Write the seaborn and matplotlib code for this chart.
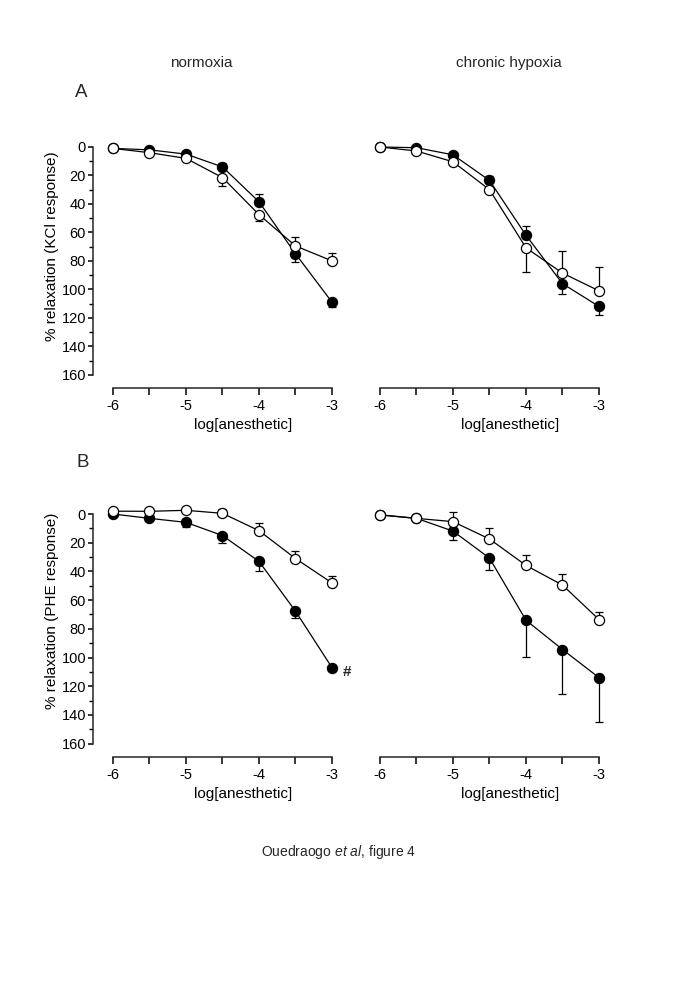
import numpy as np
import pandas as pd
import matplotlib
matplotlib.use("Agg")
import matplotlib.pyplot as plt
import seaborn as sns

# ---------------- data ----------------
log_conc = [-6, -5.5, -5, -4.5, -4, -3.5, -3]
x_major = [-6, -5, -4, -3]
x_minor = [-5.5, -4.5, -3.5]
y_major = [0, 20, 40, 60, 80, 100, 120, 140, 160]
y_minor = [10, 30, 50, 70, 90, 110, 130, 150]

# Panel A, normoxia (KCl)
a_norm_filled = [1, 2, 5, 14, 38.5, 75, 109]
a_norm_filled_up = [0, 0, 0, 3, 5.5, 0, 0]
a_norm_filled_dn = [0, 0, 0, 0, 0, 6, 3.5]
a_norm_open = [1, 4, 8, 21.5, 47.5, 69.5, 80]
a_norm_open_up = [0, 0, 0, 0, 0, 6, 5.5]
a_norm_open_dn = [0, 0, 0, 6, 4.5, 0, 0]

# Panel A, chronic hypoxia (KCl)
a_hyp_filled = [0, 0.5, 5.5, 23.5, 62, 96, 112]
a_hyp_filled_up = [0, 0, 0, 3, 6.5, 0, 0]
a_hyp_filled_dn = [0, 0, 0, 0, 0, 7.5, 6]
a_hyp_open = [0, 2.8, 10.4, 30, 70.8, 88.6, 101]
a_hyp_open_up = [0, 0, 0, 0, 0, 15.5, 17]
a_hyp_open_dn = [0, 0, 0, 0, 17.3, 0, 0]

# Panel B, normoxia (PHE)
b_norm_filled = [0, 3, 5.8, 15, 33, 67.7, 107]
b_norm_filled_up = [0, 0, 0, 0, 0, 0, 0]
b_norm_filled_dn = [0, 0, 3.5, 5, 6.5, 4.4, 0]
b_norm_open = [-2, -1.9, -2.6, -0.5, 11.6, 31, 48]
b_norm_open_up = [0, 0, 0, 3.3, 5.6, 5, 5]
b_norm_open_dn = [0, 0, 0, 0, 0, 0, 0]

# Panel B, chronic hypoxia (PHE)
b_hyp_filled = [0.5, 3, 11.9, 30.7, 74, 94.4, 114]
b_hyp_filled_up = [0, 0, 0, 0, 0, 0, 0]
b_hyp_filled_dn = [0, 0, 6, 8.3, 25.5, 30.7, 31]
b_hyp_open = [0.7, 3, 5.3, 17.4, 35.8, 49.5, 73.5]
b_hyp_open_up = [0, 0, 6.5, 8, 7, 8, 5.5]
b_hyp_open_dn = [0, 0, 0, 0, 0, 0, 0]

col_titles = ["normoxia", "chronic hypoxia"]
row_letters = ["A", "B"]
y_labels = ["% relaxation (KCl response)", "% relaxation (PHE response)"]
x_label = "log[anesthetic]"
caption = r"Ouedraogo $\mathit{et\ al}$, figure 4"

# ---------------- style ----------------
sns.set_style("ticks")
plt.rcParams["font.family"] = ["Liberation Sans", "DejaVu Sans"]
plt.rcParams["mathtext.fontset"] = "custom"
plt.rcParams["mathtext.rm"] = "Liberation Sans"
plt.rcParams["mathtext.it"] = "Liberation Sans:italic"

W, H = 685, 989
fig = plt.figure(figsize=(W / 100, H / 100), dpi=100)


def add_ax(left_px, top_px, bottom_px, width_px=246):
    return fig.add_axes([left_px / W, 1 - bottom_px / H, width_px / W, (bottom_px - top_px) / H])


axes = {
    ("A", 0): add_ax(93, 141.3, 388),
    ("A", 1): add_ax(360, 141.3, 388),
    ("B", 0): add_ax(93, 508.3, 757),
    ("B", 1): add_ax(360, 508.3, 757),
}

panels = {
    ("A", 0): (a_norm_filled, a_norm_filled_up, a_norm_filled_dn, a_norm_open, a_norm_open_up, a_norm_open_dn),
    ("A", 1): (a_hyp_filled, a_hyp_filled_up, a_hyp_filled_dn, a_hyp_open, a_hyp_open_up, a_hyp_open_dn),
    ("B", 0): (b_norm_filled, b_norm_filled_up, b_norm_filled_dn, b_norm_open, b_norm_open_up, b_norm_open_dn),
    ("B", 1): (b_hyp_filled, b_hyp_filled_up, b_hyp_filled_dn, b_hyp_open, b_hyp_open_up, b_hyp_open_dn),
}


def draw_err(ax, y, up, dn):
    x = np.array(log_conc)
    y = np.array(y, float)
    up = np.array(up, float)
    dn = np.array(dn, float)
    m = (up > 0) | (dn > 0)
    if m.any():
        ax.errorbar(x[m], y[m], yerr=[up[m], dn[m]], fmt="none", ecolor="black",
                    elinewidth=0.9, capsize=2.6, capthick=0.9, zorder=2, clip_on=False)


for (row, col), ax in axes.items():
    f, fu, fd, o, ou, od = panels[(row, col)]
    draw_err(ax, f, fu, fd)
    draw_err(ax, o, ou, od)
    df_f = pd.DataFrame({"x": log_conc, "y": f})
    df_o = pd.DataFrame({"x": log_conc, "y": o})
    sns.lineplot(data=df_f, x="x", y="y", ax=ax, color="black", marker="o", markersize=7.3,
                 markerfacecolor="black", markeredgecolor="black", markeredgewidth=0.9,
                 linewidth=0.9, clip_on=False, zorder=3, errorbar=None)
    sns.lineplot(data=df_o, x="x", y="y", ax=ax, color="black", marker="o", markersize=7.3,
                 markerfacecolor="white", markeredgecolor="black", markeredgewidth=0.9,
                 linewidth=0.9, clip_on=False, zorder=4, errorbar=None)

    ax.set_xlim(-6.274, -2.904)
    ax.set_ylim(169.3, -4)
    ax.set_xticks(x_major)
    ax.set_xticklabels([str(v) for v in x_major])
    ax.set_xticks(x_minor, minor=True)
    ax.spines["top"].set_visible(False)
    ax.spines["right"].set_visible(False)
    ax.spines["bottom"].set_bounds(-6, -3)
    ax.spines["bottom"].set_linewidth(1.1)
    ax.tick_params(axis="x", which="both", direction="out", length=5.2, width=1.1,
                   labelsize=10.5, pad=2.5, color="black", labelcolor="black")
    ax.set_xlabel(x_label, fontsize=11, color="black")
    ax.xaxis.set_label_coords(0.61, -0.148)
    ax.xaxis.label.set_va("center")

    if col == 0:
        ax.set_yticks(y_major)
        ax.set_yticklabels([str(v) for v in y_major])
        ax.set_yticks(y_minor, minor=True)
        ax.spines["left"].set_bounds(0, 160)
        ax.spines["left"].set_linewidth(1.1)
        ax.tick_params(axis="y", which="major", direction="out", length=3.5, width=1.1,
                       labelsize=10.5, pad=1.5, color="black", labelcolor="black")
        ax.tick_params(axis="y", which="minor", direction="out", length=2.6, width=1.0, color="black")
        ax.set_ylabel(y_labels[0] if row == "A" else y_labels[1], fontsize=11, color="black")
        ax.yaxis.set_label_coords(-0.167, 0.576 if row == "A" else 0.587)
        ax.yaxis.label.set_va("center")
    else:
        ax.spines["left"].set_visible(False)
        ax.tick_params(axis="y", which="both", left=False, labelleft=False)
        ax.set_ylabel("")

# '#' marker next to the last point of B normoxia
axes[("B", 0)].annotate("#", xy=(log_conc[-1], b_norm_filled[-1]), xytext=(7.5, -3),
                        textcoords="offset points", ha="left", va="center", fontsize=11,
                        fontweight="bold", annotation_clip=False)

# figure texts
fig.text(201.5 / W, 1 - 67 / H, col_titles[0], ha="center", va="baseline", fontsize=11)
fig.text(509 / W, 1 - 67 / H, col_titles[1], ha="center", va="baseline", fontsize=11)
fig.text(75 / W, 1 - 96.7 / H, row_letters[0], ha="left", va="baseline", fontsize=13.5)
fig.text(77 / W, 1 - 467.3 / H, row_letters[1], ha="left", va="baseline", fontsize=13.5)
fig.text(339 / W, 1 - 852 / H, caption, ha="center", va="center", fontsize=10)

fig.savefig("out.png", dpi=100, facecolor="white")
